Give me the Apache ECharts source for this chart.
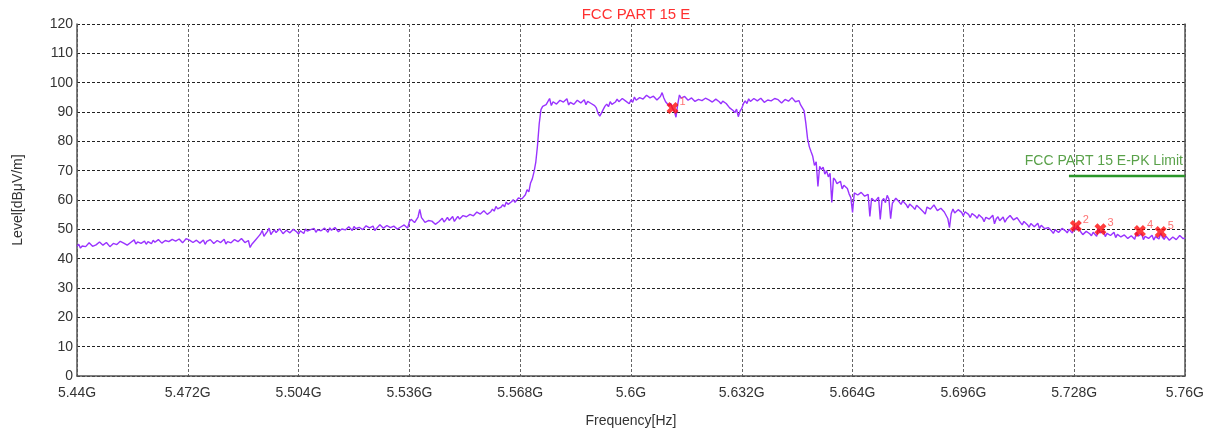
<!DOCTYPE html>
<html>
<head>
<meta charset="utf-8">
<script src="https://cdn.jsdelivr.net/npm/echarts@6/dist/echarts.min.js"></script>
<style>
html,body{margin:0;padding:0;background:#fff;}
#chart{width:1207px;height:433px;}
</style>
</head>
<body>
<div id="chart"></div>
<script>
// ---- data ----
const chartTitle = 'FCC PART 15 E';
const xAxisName = 'Frequency[Hz]';
const yAxisName = 'Level[dBμV/m]';
const freqStartMHz = 5440;
const freqStepMHz = 0.5;
const xTicksMHz = [5440, 5472, 5504, 5536, 5568, 5600, 5632, 5664, 5696, 5728, 5760];
const yTicks = [0, 10, 20, 30, 40, 50, 60, 70, 80, 90, 100, 110, 120];
// measured level, one value per 0.5 MHz from 5440 MHz (each row = 10 MHz)
const levels = [
  44.2,44.9,43.6,44.3,44.8,44.1,44.0,45.4,45.1,44.2,43.9,44.7,44.6,45.7,45.3,44.6,44.4,45.5,45.0,44.1,
  44.3,45.2,45.6,44.8,44.9,45.9,46.2,45.3,45.1,44.6,44.7,45.5,45.8,46.4,45.0,45.7,46.1,45.2,45.4,46.0,
  44.9,45.8,45.7,45.1,46.3,45.6,45.2,46.5,46.0,45.3,45.5,46.2,46.4,45.8,45.7,46.6,46.8,46.0,45.9,46.7,
  46.5,45.4,45.6,46.8,47.0,46.3,46.1,45.5,45.4,46.3,46.2,45.3,45.8,46.4,44.9,45.9,45.6,46.5,46.0,45.2,
  45.3,46.2,46.4,45.5,45.7,46.6,45.0,45.8,46.1,45.4,45.6,46.5,46.7,45.8,45.9,46.9,46.3,45.5,45.4,46.2,
  43.8,44.9,45.2,46.3,46.0,47.7,48.4,49.6,47.6,48.5,49.3,50.4,48.2,49.1,49.8,48.9,48.7,50.2,49.4,48.5,
  48.6,49.7,49.5,48.8,48.9,50.0,49.9,49.1,48.4,49.5,49.2,48.6,50.1,49.4,48.8,49.9,49.6,50.3,49.0,49.8,
  50.2,49.5,49.3,50.4,49.8,49.0,50.5,49.7,49.4,50.6,50.0,49.2,49.1,50.1,50.6,49.8,49.7,50.9,50.3,49.6,
  51.0,50.2,49.8,50.7,50.6,49.9,50.1,51.2,51.3,50.5,50.4,51.1,49.6,50.3,50.9,51.6,51.2,50.4,50.5,51.3,
  51.4,50.6,50.3,51.1,51.0,50.1,49.9,50.8,50.6,51.5,51.2,50.4,52.6,53.4,53.1,52.3,52.0,54.2,56.8,54.0,
  53.2,52.4,52.1,53.0,53.6,52.8,52.4,51.7,51.6,52.6,53.0,53.8,52.5,53.2,54.1,53.0,53.3,54.4,52.7,53.6,
  54.4,53.5,53.6,54.7,55.2,54.3,54.0,55.1,55.6,54.6,54.8,55.9,56.1,55.2,55.0,56.3,55.9,55.1,54.6,56.0,
  56.9,56.2,57.8,57.0,56.6,57.6,58.4,57.7,59.3,58.5,58.2,59.4,60.1,59.2,59.4,60.7,61.2,60.4,60.3,61.8,
  63.5,62.8,65.8,67.2,69.6,72.8,78.5,86.0,90.8,91.9,91.6,92.5,92.9,94.6,92.2,93.5,93.8,92.7,92.6,94.0,
  94.1,93.4,93.0,94.5,92.4,93.3,93.7,92.6,92.8,94.0,94.3,93.1,93.2,94.2,92.5,93.6,93.9,92.9,93.1,92.2,
  91.4,89.5,88.6,89.7,90.9,92.0,92.7,91.8,93.5,92.6,92.1,93.4,94.4,93.5,93.3,94.6,94.8,93.7,93.6,92.8,
  94.2,93.3,95.1,94.0,93.8,94.9,95.5,94.4,94.6,95.7,95.9,94.8,94.3,95.4,95.2,94.1,94.0,95.3,96.6,94.8,
  93.5,92.8,92.1,92.9,91.2,90.4,88.2,92.6,95.8,94.7,94.1,95.3,95.2,94.0,93.7,94.8,94.5,93.6,93.2,94.3,
  94.8,93.9,93.6,94.7,95.0,94.1,94.2,93.4,93.3,94.4,94.6,93.5,92.8,93.7,93.9,92.9,92.5,91.4,91.6,90.5,
  89.8,91.0,88.4,90.3,91.2,92.9,93.8,92.9,94.5,93.6,93.4,94.6,94.9,93.8,93.6,94.7,94.2,93.3,93.0,94.1,
  94.7,93.8,93.5,94.6,95.1,94.2,94.0,93.1,93.2,94.3,94.6,93.7,93.8,94.9,94.4,93.5,93.1,93.9,92.4,92.9,
  90.5,86.2,81.0,78.2,76.5,74.9,71.8,73.0,64.6,71.5,70.4,71.2,68.8,70.0,67.9,69.1,59.2,67.5,66.8,65.6,
  65.2,66.4,63.8,65.0,65.6,63.9,62.1,60.8,55.8,62.4,62.9,61.7,61.4,62.6,63.0,61.3,60.7,61.9,54.4,60.6,
  61.2,59.5,59.9,61.0,53.4,59.8,60.5,59.1,61.6,60.3,53.6,58.9,59.4,60.6,60.8,59.3,58.5,59.7,60.2,58.4,
  57.3,58.6,59.1,57.5,56.8,58.2,58.6,57.1,57.5,55.9,55.2,57.6,58.0,56.9,56.6,58.3,57.9,56.4,56.1,57.2,
  57.4,55.9,55.8,53.7,50.6,55.4,56.9,55.6,55.5,56.7,57.1,55.8,54.6,56.0,56.3,55.1,54.0,55.4,55.7,54.5,
  53.8,55.0,55.2,53.9,52.6,54.1,54.7,53.5,53.4,54.8,51.9,53.6,54.3,52.9,53.1,54.2,52.4,53.5,54.0,54.7,
  54.4,53.2,52.8,54.0,53.6,52.3,51.5,52.7,52.9,51.6,50.7,52.0,52.2,50.9,51.0,52.1,50.3,51.4,51.6,50.2,
  49.8,50.6,50.9,49.4,48.6,49.9,50.4,48.9,49.2,50.3,50.7,49.5,48.8,50.0,49.6,48.7,50.8,49.7,51.3,49.9,
  49.0,48.2,48.1,49.3,49.7,48.5,47.8,49.0,48.9,47.6,50.2,48.8,48.3,49.4,47.5,48.6,49.1,47.9,48.0,49.0,
  47.2,48.3,48.6,47.4,47.0,48.1,48.3,46.9,46.8,47.8,47.9,46.6,49.0,47.7,47.4,48.5,46.5,47.6,48.1,46.9,
  47.1,48.0,46.4,47.5,47.8,46.7,48.7,47.3,46.6,47.7,47.5,46.3,46.2,47.4,47.3,46.5,46.9,47.9,47.6,46.8,
  47.1
];
const limitName = 'FCC PART 15 E-PK Limit';
const limitFreqsMHz = [5726.5, 5760];
const limitLevels = [68.2, 68.2];
const markerLabels = ['1', '2', '3', '4', '5'];
const markerFreqsMHz = [5612, 5728.5, 5735.6, 5747, 5753];
const markerLevels = [91.4, 51.1, 50.0, 49.4, 49.1];

// ---- build ----
const fontFam = "'Liberation Sans',Arial,sans-serif";
const traceData = levels.map((v, i) => [freqStartMHz + i * freqStepMHz, v]);
const limitData = limitFreqsMHz.map((f, i) => [f, limitLevels[i]]);
const limitLabelData = [{ value: limitData[limitData.length - 1], name: limitName }];
const markerData = markerFreqsMHz.map((f, i) => ({ value: [f, markerLevels[i]], name: markerLabels[i] }));
const xPath = 'path://M0,2.5 L2.5,0 L5,2.5 L7.5,0 L10,2.5 L7.5,5 L10,7.5 L7.5,10 L5,7.5 L2.5,10 L0,7.5 L2.5,5 Z';

const chart = echarts.init(document.getElementById('chart'), null, { renderer: 'canvas' });
chart.setOption({
  animation: false,
  backgroundColor: '#ffffff',
  title: {
    text: chartTitle, left: 631, top: 2, textAlign: 'center',
    textStyle: { color: '#ff3030', fontSize: 15, fontWeight: 'normal', fontFamily: fontFam }
  },
  grid: { left: 77, right: 22, top: 24, bottom: 57, containLabel: false },
  xAxis: {
    type: 'value', min: xTicksMHz[0], max: xTicksMHz[xTicksMHz.length - 1],
    interval: xTicksMHz[1] - xTicksMHz[0],
    name: xAxisName, nameLocation: 'middle', nameGap: 38,
    nameTextStyle: { color: '#333', fontSize: 14, fontFamily: fontFam },
    axisLine: { show: true, lineStyle: { color: '#555', width: 1.5 } },
    axisTick: { show: false },
    axisLabel: {
      color: '#333', fontSize: 14, fontFamily: fontFam, margin: 10,
      showMinLabel: true, showMaxLabel: true,
      formatter: v => parseFloat((v / 1000).toFixed(3)) + 'G'
    },
    splitLine: { show: true, lineStyle: { color: '#666', type: [3, 2], width: 1 } }
  },
  yAxis: [{
    type: 'value', min: yTicks[0], max: yTicks[yTicks.length - 1], interval: yTicks[1] - yTicks[0],
    name: yAxisName, nameLocation: 'middle', nameGap: 52,
    nameTextStyle: { color: '#333', fontSize: 14, fontFamily: fontFam },
    axisLine: { show: true, lineStyle: { color: '#555', width: 1.5 } },
    axisTick: { show: false },
    axisLabel: { color: '#333', fontSize: 14, fontFamily: fontFam, margin: 4 },
    splitLine: { show: true, lineStyle: { color: '#222', type: [3, 2], width: 1 } }
  }, {
    type: 'value', position: 'right', min: yTicks[0], max: yTicks[yTicks.length - 1],
    axisLine: { show: true, lineStyle: { color: '#555', width: 1.5 } },
    axisTick: { show: false }, axisLabel: { show: false }, splitLine: { show: false }
  }],
  series: [{
    type: 'line', data: traceData, showSymbol: false, symbol: 'none',
    lineStyle: { color: '#9933ff', width: 1.4 }, z: 3
  }, {
    type: 'line', data: limitData, showSymbol: false, symbol: 'none',
    lineStyle: { color: '#2a962a', width: 2.5 }, z: 2
  }, {
    type: 'scatter', data: limitLabelData, symbolSize: 0, z: 4, silent: true,
    label: {
      show: true, position: 'left', distance: 2, offset: [0, -15],
      formatter: p => p.name, color: '#2f8a1c', fontSize: 14, fontFamily: fontFam
    }
  }, {
    type: 'scatter', data: markerData, symbol: xPath, symbolSize: 12,
    itemStyle: { color: '#ff0d0d' }, z: 5,
    label: {
      show: true, position: 'right', distance: 1, offset: [0, -6],
      formatter: p => p.name, color: '#ff5050', fontSize: 11, fontFamily: fontFam
    }
  }]
});
</script>
</body>
</html>
